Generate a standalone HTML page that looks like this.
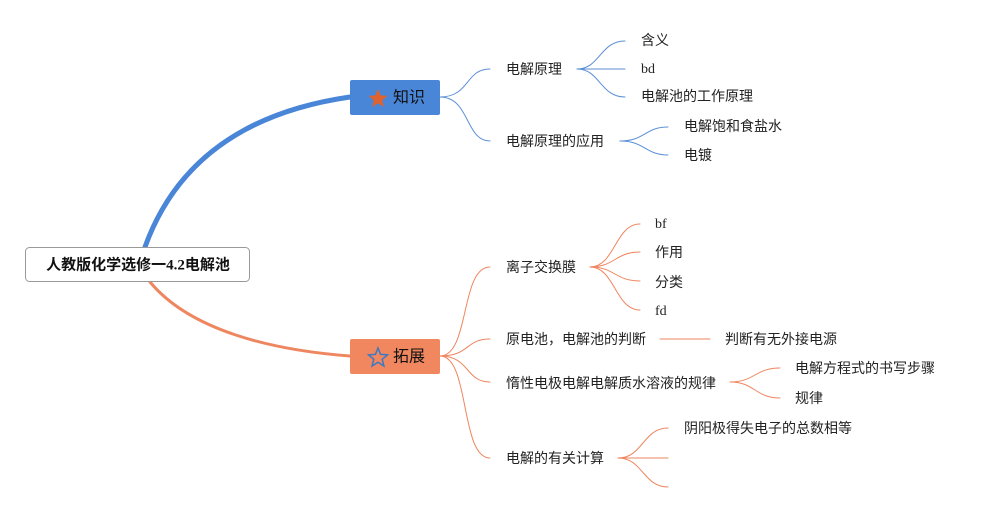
<!DOCTYPE html>
<html><head><meta charset="utf-8"><style>
body{margin:0;background:#fff;width:995px;height:513px;overflow:hidden}
svg text{font-family:"Liberation Serif","Noto Sans CJK SC",sans-serif;font-size:14px;fill:#222;dominant-baseline:middle}
</style></head><body>
<svg width="995" height="513" viewBox="0 0 995 513">
<g fill="none" stroke-linecap="round">
<path d="M145,247 C180,150 260,110 350,97" stroke="#4a86d8" stroke-width="5"/>
<path d="M150,282 C190,330 270,350 350,356" stroke="#ee8660" stroke-width="3"/>
<g stroke="#5b8fd6" stroke-width="1">
<path d="M440,97 C470,97 465,69 490,69"/>
<path d="M440,97 C470,97 465,141 490,141"/>
<path d="M577,69 C600,69 600,41 625,41"/>
<path d="M577,69 L625,69"/>
<path d="M577,69 C600,69 600,97 625,97"/>
<path d="M620,141 C645,141 645,127 668,127"/>
<path d="M620,141 C645,141 645,155 668,155"/>
</g>
<g stroke="#ee8660" stroke-width="1">
<path d="M440,356 C470,356 460,267 490,267"/>
<path d="M440,356 C470,356 465,339 490,339"/>
<path d="M440,356 C470,356 465,382 490,382"/>
<path d="M440,356 C470,356 460,458 490,458"/>
<path d="M590,267 C615,267 615,224 640,224"/>
<path d="M590,267 C615,267 615,252 640,252"/>
<path d="M590,267 C615,267 615,281 640,281"/>
<path d="M590,267 C615,267 615,310 640,310"/>
<path d="M660,339 L710,339"/>
<path d="M730,382 C755,382 755,368 780,368"/>
<path d="M730,382 C755,382 755,398 780,398"/>
<path d="M618,458 C643,458 643,428 668,428"/>
<path d="M618,458 L668,458"/>
<path d="M618,458 C643,458 643,487 668,487"/>
</g>
</g>
<rect x="25.5" y="247.5" width="224" height="34" rx="4" fill="#fff" stroke="#999"/>
<text x="138" y="266" text-anchor="middle" style="font-size:15px;font-weight:bold;fill:#111">人教版化学选修一4.2电解池</text>
<rect x="350" y="80" width="90" height="35" rx="2" fill="#4a86d8"/>
<polygon points="378,89 380.6,95.4 387.5,95.9 382.2,100.3 383.9,107 378,103.3 372.1,107 373.8,100.3 368.5,95.9 375.4,95.4" fill="#e0622f"/>
<text x="393" y="99" style="font-size:16px;fill:#111">知识</text>
<rect x="350" y="339" width="90" height="35" rx="2" fill="#f0875f"/>
<polygon points="378,348 380.6,354.4 387.5,354.9 382.2,359.3 383.9,366 378,362.3 372.1,366 373.8,359.3 368.5,354.9 375.4,354.4" fill="none" stroke="#3d78c2" stroke-width="1.5"/>
<text x="393" y="358" style="font-size:16px;fill:#111">拓展</text>
<g transform="translate(0,1)">
<text x="506" y="70">电解原理</text>
<text x="506" y="142">电解原理的应用</text>
<text x="641" y="41">含义</text>
<text x="641" y="69">bd</text>
<text x="641" y="97">电解池的工作原理</text>
<text x="684" y="127">电解饱和食盐水</text>
<text x="684" y="156">电镀</text>
<text x="506" y="268">离子交换膜</text>
<text x="506" y="340">原电池，电解池的判断</text>
<text x="506" y="384">惰性电极电解电解质水溶液的规律</text>
<text x="506" y="459">电解的有关计算</text>
<text x="655" y="224">bf</text>
<text x="655" y="253">作用</text>
<text x="655" y="283">分类</text>
<text x="655" y="311">fd</text>
<text x="725" y="340">判断有无外接电源</text>
<text x="795" y="369">电解方程式的书写步骤</text>
<text x="795" y="399">规律</text>
<text x="684" y="429">阴阳极得失电子的总数相等</text>
</g>
</svg>
</body></html>
